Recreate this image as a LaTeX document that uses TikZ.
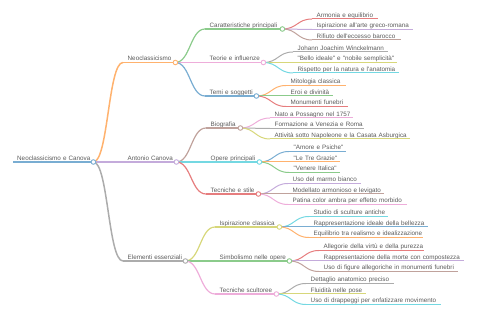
\documentclass[tikz,border=0pt]{standalone}
\usepackage{fontspec}
\newfontfamily\mmfont{Liberation Sans}
\usetikzlibrary{calc}
\pgfdeclarelayer{bg}
\pgfsetlayers{bg,main}
\definecolor{k0}{HTML}{1F77B4}\colorlet{c0}{k0!60!white}
\definecolor{k1}{HTML}{FF7F0E}\colorlet{c1}{k1!60!white}
\definecolor{k2}{HTML}{2CA02C}\colorlet{c2}{k2!55!white}
\definecolor{k3}{HTML}{D62728}\colorlet{c3}{k3!60!white}
\definecolor{k4}{HTML}{9467BD}\colorlet{c4}{k4!55!white}
\definecolor{k5}{HTML}{8C564B}\colorlet{c5}{k5!55!white}
\definecolor{k6}{HTML}{E377C2}\colorlet{c6}{k6!60!white}
\definecolor{k7}{HTML}{7F7F7F}\colorlet{c7}{k7!65!white}
\definecolor{k8}{HTML}{BCBD22}\colorlet{c8}{k8!60!white}
\definecolor{k9}{HTML}{17BECF}\colorlet{c9}{k9!60!white}
\definecolor{txtgray}{HTML}{5A5A5A}
\tikzset{
  mmlbl/.style={font=\mmfont\fontsize{6.3}{7}\selectfont, text=txtgray, inner xsep=0pt, inner ysep=1.6pt, text depth=0pt, align=left, anchor=south west},
  mmdotstyle/.style={circle, fill=white, line width=0.9pt, minimum size=4.6pt, inner sep=0pt},
  mmlink/.style={to path={let \p1=(\tikztostart), \p2=(\tikztotarget) in .. controls ({(\x1+\x2)/2},\y1) and ({(\x1+\x2)/2},\y2) .. (\tikztotarget)}}
}
% #1 parent dot, #2 name, #3 x, #4 y, #5 length, #6 colour, #7 line width, #8 text
\newcommand{\mmchild}[8]{%
  \node[mmlbl, text width=#5pt] (#2) at (#3,#4) {\hspace*{4.5pt}\mbox{#8}};
  \draw[draw=#6, line width=#7pt] (#2.south west) -- (#2.south east);
  \begin{pgfonlayer}{bg}
    \draw[draw=#6, line width=#7pt, mmlink] (#1.center) to (#2.south west);
  \end{pgfonlayer}
}
\newcommand{\mmdot}[2]{\node[mmdotstyle, draw=#2] (#1d) at (#1.south east) {};}
\begin{document}
\begin{tikzpicture}[x=1pt,y=-1pt]
\useasboundingbox (0,0) rectangle (480,320);
% root
\node[mmlbl, text width=80pt] (root) at (13,162) {\hspace*{4pt}\mbox{Neoclassicismo e Canova}};
\draw[draw=c0, line width=1.8pt] (root.south west) -- (root.south east);
\mmdot{root}{c0}
% Neoclassicismo
\mmchild{rootd}{neo}{123}{62.5}{52}{c1}{1.5}{Neoclassicismo}
\mmdot{neo}{c1}
\mmchild{neod}{car}{205}{29}{77}{c2}{1.2}{Caratteristiche principali}
\mmdot{car}{c2}
\mmchild{card}{arm}{312}{19}{66}{c3}{1}{Armonia e equilibrio}
\mmchild{card}{isp}{312}{29.5}{101}{c4}{1}{Ispirazione all'arte greco-romana}
\mmchild{card}{rif}{312}{40}{89}{c5}{1}{Rifiuto dell'eccesso barocco}
\mmchild{neod}{teo}{205}{62.5}{58}{c6}{1.2}{Teorie e influenze}
\mmdot{teo}{c6}
\mmchild{teod}{win}{293}{52}{95}{c7}{1}{Johann Joachim Winckelmann}
\mmchild{teod}{bel}{293}{62.5}{104}{c8}{1}{"Bello ideale" e "nobile semplicità"}
\mmchild{teod}{ris}{293}{73}{106}{c9}{1}{Rispetto per la natura e l'anatomia}
\mmchild{neod}{tem}{205}{96}{51}{c0}{1.2}{Temi e soggetti}
\mmdot{tem}{c0}
\mmchild{temd}{mit}{286}{85.5}{60}{c1}{1}{Mitologia classica}
\mmchild{temd}{ero}{286}{96}{47}{c2}{1}{Eroi e divinità}
\mmchild{temd}{mon}{286}{106.5}{62}{c3}{1}{Monumenti funebri}
% Antonio Canova
\mmchild{rootd}{can}{123}{162}{53}{c4}{1.5}{Antonio Canova}
\mmdot{can}{c4}
\mmchild{cand}{bio}{206}{128}{34}{c5}{1.2}{Biografia}
\mmdot{bio}{c5}
\mmchild{biod}{nat}{270}{118}{83}{c6}{1}{Nato a Possagno nel 1757}
\mmchild{biod}{frm}{270}{128.5}{94}{c7}{1}{Formazione a Venezia e Roma}
\mmchild{biod}{att}{270}{139}{140}{c8}{1}{Attività sotto Napoleone e la Casata Asburgica}
\mmchild{cand}{ope}{206}{162}{53}{c9}{1.2}{Opere principali}
\mmdot{ope}{c9}
\mmchild{oped}{amo}{289}{151.5}{57}{c0}{1}{"Amore e Psiche"}
\mmchild{oped}{tre}{289}{162}{51}{c1}{1}{"Le Tre Grazie"}
\mmchild{oped}{ven}{289}{172.5}{51}{c2}{1}{"Venere Italica"}
\mmchild{cand}{tec}{206}{194}{52}{c3}{1.2}{Tecniche e stile}
\mmdot{tec}{c3}
\mmchild{tecd}{mar}{288}{183.5}{73}{c4}{1}{Uso del marmo bianco}
\mmchild{tecd}{mdl}{288}{194}{96}{c5}{1}{Modellato armonioso e levigato}
\mmchild{tecd}{pat}{288}{204.5}{119}{c6}{1}{Patina color ambra per effetto morbido}
% Elementi essenziali
\mmchild{rootd}{ele}{123}{261}{62}{c7}{1.5}{Elementi essenziali}
\mmdot{ele}{c7}
\mmchild{eled}{ic}{215}{227}{64}{c8}{1.2}{Ispirazione classica}
\mmdot{ic}{c8}
\mmchild{icd}{stu}{309}{216.5}{79}{c9}{1}{Studio di sculture antiche}
\mmchild{icd}{rib}{309}{227}{119}{c0}{1}{Rappresentazione ideale della bellezza}
\mmchild{icd}{equ}{309}{237.5}{114}{c1}{1}{Equilibrio tra realismo e idealizzazione}
\mmchild{eled}{sim}{215}{261}{74}{c2}{1.2}{Simbolismo nelle opere}
\mmdot{sim}{c2}
\mmchild{simd}{alg}{319}{250.5}{105}{c3}{1}{Allegorie della virtù e della purezza}
\mmchild{simd}{rmo}{319}{261}{145}{c4}{1}{Rappresentazione della morte con compostezza}
\mmchild{simd}{ufi}{319}{271.5}{139}{c5}{1}{Uso di figure allegoriche in monumenti funebri}
\mmchild{eled}{tsc}{215}{294}{61}{c6}{1.2}{Tecniche scultoree}
\mmdot{tsc}{c6}
\mmchild{tscd}{det}{306}{283.5}{88}{c7}{1}{Dettaglio anatomico preciso}
\mmchild{tscd}{flu}{306}{294}{60}{c8}{1}{Fluidità nelle pose}
\mmchild{tscd}{dra}{306}{304.5}{135}{c9}{1}{Uso di drappeggi per enfatizzare movimento}
\end{tikzpicture}
\end{document}
